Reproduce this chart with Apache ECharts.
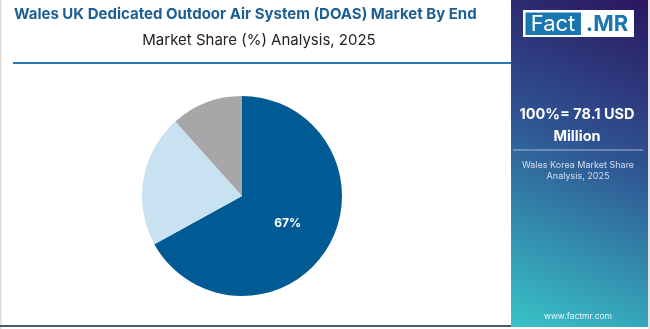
<!DOCTYPE html>
<html>
<head>
<meta charset="utf-8">
<script src="https://cdn.jsdelivr.net/npm/echarts@6/dist/echarts.min.js"></script>
<style>
html,body{margin:0;padding:0;background:#fff;}
#c{width:650px;height:329px;}
</style>
</head>
<body>
<div id="c"></div>
<script>
const categories = ['Segment A', 'Segment B', 'Segment C'];
const shares = [67, 21.4, 11.6];
const sliceColors = ['#005a94', '#c8e2f2', '#a7a7a9'];
const titleText = 'Wales UK Dedicated Outdoor Air System (DOAS) Market By End';
const subtitleText = 'Market Share (%) Analysis, 2025';
const totalLine1 = '100%= 78.1 USD';
const totalLine2 = 'Million';
const panelNote1 = 'Wales Korea Market Share';
const panelNote2 = 'Analysis, 2025';
const siteText = 'www.factmr.com';

const chart = echarts.init(document.getElementById('c'), null, {renderer: 'canvas'});
const font = 'Inter, "Open Sans", sans-serif';

chart.setOption({
  animation: false,
  backgroundColor: '#ffffff',
  series: [{
    type: 'pie',
    center: [242, 196],
    radius: [0, 100],
    startAngle: 90,
    clockwise: true,
    silent: true,
    label: {show: false},
    labelLine: {show: false},
    data: categories.map((name, i) => ({
      name: name,
      value: shares[i],
      itemStyle: {color: sliceColors[i]},
      label: i === 0 ? {
        show: true, position: 'inside',
        formatter: (p) => Math.round(p.value) + '%',
        color: '#ffffff', fontSize: 12, fontWeight: 'bold', fontFamily: font
      } : {show: false}
    }))
  }],
  graphic: [
    {type: 'rect', shape: {x: 0, y: 0, width: 1.5, height: 329}, style: {fill: '#dcdcdc'}, silent: true},
    {type: 'rect', shape: {x: 0, y: 325, width: 650, height: 2}, style: {fill: '#4b5a66'}, silent: true},
    {type: 'text', left: 14, top: 7, style: {text: titleText, fill: '#1d5f93', font: 'bold 15px ' + font}},
    {type: 'text', x: 259, y: 40, style: {text: subtitleText, fill: '#222222', font: '15px ' + font, align: 'center', verticalAlign: 'middle'}},
    {type: 'rect', shape: {x: 13, y: 62, width: 498, height: 2}, style: {fill: '#2f76b0'}, silent: true},
    {type: 'rect', shape: {x: 511, y: 0, width: 137, height: 327},
      style: {fill: new echarts.graphic.LinearGradient(1, 0, 0, 1, [
        {offset: 0, color: '#2b1660'},
        {offset: 0.45, color: '#2f5593'},
        {offset: 1, color: '#38c4c8'}
      ])}, silent: true},
    {type: 'rect', shape: {x: 648, y: 0, width: 2, height: 329}, style: {fill: '#e4e4e4'}, silent: true},
    {type: 'rect', shape: {x: 523, y: 10, width: 111, height: 27}, style: {fill: '#ffffff'}, silent: true},
    {type: 'rect', shape: {x: 525.5, y: 12.5, width: 55.5, height: 22.5}, style: {fill: '#1a76b0'}, silent: true},
    {type: 'text', x: 553, y: 24, style: {text: 'Fact', fill: '#ffffff', font: '22px ' + font, align: 'center', verticalAlign: 'middle'}},
    {type: 'text', x: 607, y: 24, style: {text: '.MR', fill: '#1a76b0', font: 'bold 22px ' + font, align: 'center', verticalAlign: 'middle'}},
    {type: 'text', x: 577, y: 115, style: {text: totalLine1, fill: '#ffffff', font: 'bold 14.5px ' + font, align: 'center', verticalAlign: 'middle'}},
    {type: 'text', x: 577, y: 137, style: {text: totalLine2, fill: '#ffffff', font: 'bold 14.5px ' + font, align: 'center', verticalAlign: 'middle'}},
    {type: 'rect', shape: {x: 513, y: 149.5, width: 130, height: 1}, style: {fill: '#a9b6dc'}, silent: true},
    {type: 'text', x: 578, y: 165.5, style: {text: panelNote1, fill: '#d6ddef', font: '9px ' + font, align: 'center', verticalAlign: 'middle'}},
    {type: 'text', x: 578, y: 176.5, style: {text: panelNote2, fill: '#d6ddef', font: '9px ' + font, align: 'center', verticalAlign: 'middle'}},
    {type: 'text', x: 578, y: 316, style: {text: siteText, fill: '#eef2fa', font: '8.5px ' + font, align: 'center', verticalAlign: 'middle'}}
  ]
});
</script>
</body>
</html>
